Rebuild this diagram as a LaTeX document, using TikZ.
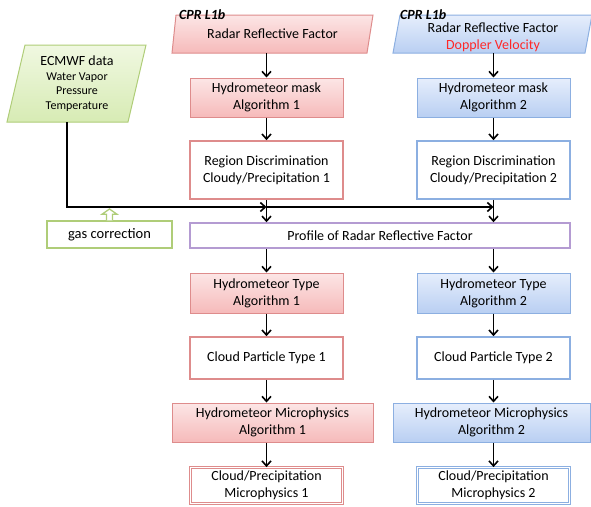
\documentclass[tikz,border=0pt]{standalone}
\usepackage{fontspec}
\setmainfont{Carlito}
\usetikzlibrary{arrows.meta,calc}
\definecolor{redB}{RGB}{222,140,140}
\definecolor{redT}{RGB}{252,230,230}
\definecolor{redD}{RGB}{246,186,186}
\definecolor{bluB}{RGB}{140,175,225}
\definecolor{bluT}{RGB}{230,238,252}
\definecolor{bluD}{RGB}{185,207,242}
\definecolor{grnB}{RGB}{175,205,120}
\definecolor{grnT}{RGB}{240,248,225}
\definecolor{grnD}{RGB}{215,235,180}
\definecolor{purB}{RGB}{180,155,210}
\definecolor{dopred}{RGB}{255,40,40}
\begin{document}
\begin{tikzpicture}[x=1pt,y=-1pt,
  txt/.style={font=\fontsize{14}{17}\selectfont},
  box/.style={rectangle, inner sep=0pt, align=center, txt},
  redfill/.style={box, draw=redB, line width=1pt, top color=redT, bottom color=redD},
  blufill/.style={box, draw=bluB, line width=1pt, top color=bluT, bottom color=bluD},
  redwhite/.style={box, draw=redB, line width=1.6pt, fill=white},
  bluwhite/.style={box, draw=bluB, line width=1.6pt, fill=white},
  reddouble/.style={box, draw=redB, double=white, double distance=1.6pt, line width=0.8pt},
  bludouble/.style={box, draw=bluB, double=white, double distance=1.6pt, line width=0.8pt},
  redpara/.style={draw=redB, line width=1pt, top color=redT, bottom color=redD},
  blupara/.style={draw=bluB, line width=1pt, top color=bluT, bottom color=bluD},
  grnpara/.style={draw=grnB, line width=1pt, top color=grnT, bottom color=grnD},
  ptext/.style={rectangle, inner sep=0pt, align=center, txt},
  cpr/.style={anchor=base west, font=\fontsize{14}{16}\selectfont\bfseries\itshape, inner sep=0pt},
  arr/.style={-{Straight Barb[length=5pt,width=9pt]}, line width=1.6pt, black}
]
\useasboundingbox (0,0) rectangle (591,506);
\clip (0,0) rectangle (591,506);

% top parallelograms
\path[redpara] (176,15) -- (373,15) -- (367,53) -- (172,53) -- cycle;
\node[ptext, minimum width=195, minimum height=38] (t1) at (272.5,34) {Radar Reflective Factor};
\path[blupara] (400,15) -- (592,15) -- (585,53) -- (393,53) -- cycle;
\node[ptext, font=\fontsize{14}{17}\selectfont] (t2t) at (493,37)
  {Radar Reflective Factor\\\textcolor{dopred}{Doppler Velocity}};
\coordinate (t2) at (493,53);
\node[cpr] (c1) at (179,19) {CPR L1b};
\node[cpr] (c2) at (400,19) {CPR L1b};

% ECMWF
\path[grnpara] (25,45) -- (146,45) -- (128,122) -- (7,122) -- cycle;
\node[ptext, minimum width=121, minimum height=77, font=\fontsize{12}{14.5}\selectfont] (ec) at (77,83.5)
  {{\fontsize{14}{16}\selectfont ECMWF data}\\Water Vapor\\Pressure\\Temperature};

% left column
\node[redfill, minimum width=153, minimum height=39] (hm1) at (266.5,97.5) {Hydrometeor mask\\Algorithm 1};
\node[redwhite, minimum width=153, minimum height=58] (rd1) at (266.5,170) {Region Discrimination\\Cloudy/Precipitation 1};
\node[redfill, minimum width=153, minimum height=40] (ht1) at (266.5,293) {Hydrometeor Type\\Algorithm 1};
\node[redwhite, minimum width=153, minimum height=42] (cp1) at (266.5,358) {Cloud Particle Type 1};
\node[redfill, minimum width=201, minimum height=39] (mp1) at (272.5,422.5) {Hydrometeor Microphysics\\Algorithm 1};
\node[reddouble, minimum width=152, minimum height=36] (cm1) at (266.5,485.5) {Cloud/Precipitation\\Microphysics 1};

% right column
\node[blufill, minimum width=153, minimum height=39] (hm2) at (493.5,97.5) {Hydrometeor mask\\Algorithm 2};
\node[bluwhite, minimum width=153, minimum height=58] (rd2) at (493.5,170) {Region Discrimination\\Cloudy/Precipitation 2};
\node[blufill, minimum width=153, minimum height=40] (ht2) at (493.5,293) {Hydrometeor Type\\Algorithm 2};
\node[bluwhite, minimum width=153, minimum height=42] (cp2) at (493.5,358) {Cloud Particle Type 2};
\node[blufill, minimum width=197, minimum height=39] (mp2) at (491.5,422.5) {Hydrometeor Microphysics\\Algorithm 2};
\node[bludouble, minimum width=152, minimum height=36] (cm2) at (493.5,485.5) {Cloud/Precipitation\\Microphysics 2};

% profile and gas
\node[box, draw=purB, line width=1.5pt, fill=white, minimum width=380, minimum height=25] (pr) at (380,235.5) {Profile of Radar Reflective Factor};
\node[box, draw=grnB, line width=1.5pt, fill=white, minimum width=125, minimum height=27, font=\fontsize{14.5}{16}\selectfont] (gas) at (109.5,234.5) {gas correction};

% junctions
\coordinate (j0) at (67,207);
\coordinate (j1) at (266.5,207);
\coordinate (j2) at (493.5,207);

% arrows left
\draw[arr] (t1.south -| hm1.north) -- (hm1.north);
\draw[arr] (hm1) -- (rd1);
\draw[arr] (rd1.south) -- (pr.north -| rd1.south);
\draw[arr] (pr.south -| ht1.north) -- (ht1.north);
\draw[arr] (ht1) -- (cp1);
\draw[arr] (cp1.south) -- (mp1.north -| cp1.south);
\draw[arr] (mp1.south -| cm1.north) -- (cm1.north);
% arrows right
\draw[arr] (t2 -| hm2.north) -- (hm2.north);
\draw[arr] (hm2) -- (rd2);
\draw[arr] (rd2.south) -- (pr.north -| rd2.south);
\draw[arr] (pr.south -| ht2.north) -- (ht2.north);
\draw[arr] (ht2) -- (cp2);
\draw[arr] (cp2.south) -- (mp2.north -| cp2.south);
\draw[arr] (mp2.south -| cm2.north) -- (cm2.north);

% ECMWF line
\draw[arr] (ec.south -| j0) -- (j0) -- (j1);
\draw[arr] (j1) -- (j2);

% hollow gas arrow
\draw[draw=grnB, line width=1.3pt, fill=white, line join=miter]
  ($(gas.north)+(-3,0)$) -- ++(0,-6) -- ++(-4.5,0) -- ($(gas.north |- j0)+(0,2)$)
  -- ($(gas.north)+(7.5,-6)$) -- ++(-4.5,0) -- ($(gas.north)+(3,0)$);
\end{tikzpicture}
\end{document}
